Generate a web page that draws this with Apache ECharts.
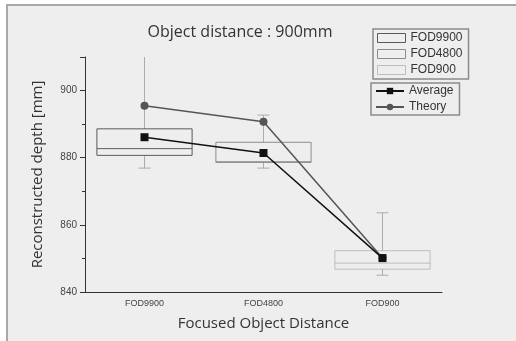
<!DOCTYPE html>
<html>
<head>
<meta charset="utf-8">
<script src="https://cdn.jsdelivr.net/npm/echarts@6/dist/echarts.min.js"></script>
<style>
html,body{margin:0;padding:0;background:#fff;}
#c{width:516px;height:341px;}
</style>
</head>
<body>
<div id="c"></div>
<script>
var categories = ['FOD9900', 'FOD4800', 'FOD900'];
var boxMin = [876.9, 876.9, 845.0];
var boxQ1 = [880.7, 878.6, 846.8];
var boxMedian = [882.7, 878.8, 848.6];
var boxQ3 = [888.6, 884.6, 852.3];
var boxMax = [913.0, 892.7, 863.6];
var average = [886.1, 881.4, 850.1];
var theory = [895.5, 890.7, 850.1];
var yTicks = [840, 860, 880, 900];

var boxStroke = ['#5a5a5a', '#8c8c8c', '#bdbdbd'];
var whiskerColor = '#acacac';

var chart = echarts.init(document.getElementById('c'), null, {renderer: 'canvas'});

function renderBox(params, api) {
  var x = api.value(0);
  var pMin = api.coord([x, api.value(1)]);
  var pQ1 = api.coord([x, api.value(2)]);
  var pMed = api.coord([x, api.value(3)]);
  var pQ3 = api.coord([x, api.value(4)]);
  var pMax = api.coord([x, api.value(5)]);
  var hw = api.size([1, 0])[0] * 0.4;
  var cap = 6;
  var cx = pQ1[0];
  var stroke = boxStroke[params.seriesIndex];
  return {
    type: 'group',
    children: [
      {type: 'line', shape: {x1: cx, y1: pQ3[1], x2: cx, y2: pMax[1]}, style: {stroke: whiskerColor, lineWidth: 1}},
      {type: 'line', shape: {x1: cx, y1: pQ1[1], x2: cx, y2: pMin[1]}, style: {stroke: whiskerColor, lineWidth: 1}},
      {type: 'line', shape: {x1: cx - cap, y1: pMax[1], x2: cx + cap, y2: pMax[1]}, style: {stroke: whiskerColor, lineWidth: 1}},
      {type: 'line', shape: {x1: cx - cap, y1: pMin[1], x2: cx + cap, y2: pMin[1]}, style: {stroke: whiskerColor, lineWidth: 1}},
      {type: 'rect', shape: {x: cx - hw, y: pQ3[1], width: hw * 2, height: pQ1[1] - pQ3[1]}, style: {fill: 'none', stroke: stroke, lineWidth: 1}},
      {type: 'line', shape: {x1: cx - hw, y1: pMed[1], x2: cx + hw, y2: pMed[1]}, style: {stroke: stroke, lineWidth: 1}}
    ]
  };
}

var series = [];
for (var i = 0; i < categories.length; i++) {
  series.push({
    name: categories[i],
    type: 'custom',
    clip: true,
    renderItem: renderBox,
    itemStyle: {color: boxStroke[i]},
    encode: {x: 0, y: [1, 2, 3, 4, 5]},
    data: [[i, boxMin[i], boxQ1[i], boxMedian[i], boxQ3[i], boxMax[i]]],
    z: 1
  });
}
series.push({
  name: 'Theory', type: 'line', data: theory, symbol: 'circle', symbolSize: 8,
  lineStyle: {color: '#555', width: 1.5}, itemStyle: {color: '#555'}, z: 3
});
series.push({
  name: 'Average', type: 'line', data: average, symbol: 'rect', symbolSize: 8,
  lineStyle: {color: '#111', width: 1.5}, itemStyle: {color: '#111'}, z: 4
});

var legendText = {fontFamily: 'Liberation Sans, Arial', fontSize: 12, color: '#333'};

chart.setOption({
  backgroundColor: '#fff',
  animation: false,
  graphic: [{
    type: 'rect', z: -10, silent: true,
    shape: {x: 7, y: 5, width: 600, height: 400},
    style: {fill: '#eeeeee', stroke: '#a8a8a8', lineWidth: 2}
  }],
  title: {
    text: 'Object distance : 900mm', left: 235, top: 19, textAlign: 'center',
    textStyle: {fontFamily: 'Open Sans, Noto Sans', fontSize: 16, fontWeight: 'normal', color: '#333'}
  },
  legend: [{
    orient: 'vertical', left: 373, top: 29, padding: [3, 6, 3, 4],
    itemWidth: 28, itemHeight: 9, itemGap: 4, borderColor: '#8a8a8a', borderWidth: 1.5,
    data: [
      {name: 'FOD9900', icon: 'rect', itemStyle: {color: 'transparent', borderColor: '#5a5a5a', borderWidth: 1}},
      {name: 'FOD4800', icon: 'rect', itemStyle: {color: 'transparent', borderColor: '#8c8c8c', borderWidth: 1}},
      {name: 'FOD900', icon: 'rect', itemStyle: {color: 'transparent', borderColor: '#bdbdbd', borderWidth: 1}}
    ],
    textStyle: legendText
  }, {
    orient: 'vertical', left: 371, top: 83, padding: [2, 6, 2, 4],
    itemWidth: 28, itemHeight: 8, itemGap: 4, borderColor: '#8a8a8a', borderWidth: 1.5,
    data: ['Average', 'Theory'],
    textStyle: legendText
  }],
  grid: {left: 85, top: 57, right: 74, bottom: 49},
  xAxis: {
    type: 'category', data: categories, boundaryGap: true,
    axisLine: {lineStyle: {color: '#333', width: 1}},
    axisTick: {alignWithLabel: true, length: 4, lineStyle: {color: '#333'}},
    axisLabel: {fontFamily: 'Liberation Sans, Arial', fontSize: 9, color: '#444', margin: 7},
    name: 'Focused Object Distance', nameLocation: 'middle', nameGap: 24,
    nameTextStyle: {fontFamily: 'Open Sans, Noto Sans', fontSize: 15, color: '#333'}
  },
  yAxis: {
    type: 'value', min: 840, max: 910, interval: 20,
    axisLine: {show: true, lineStyle: {color: '#333', width: 1}},
    axisTick: {show: true, length: 5, lineStyle: {color: '#333'}},
    minorTick: {show: true, splitNumber: 2, length: 3, lineStyle: {color: '#333'}},
    splitLine: {show: false},
    axisLabel: {
      fontFamily: 'Liberation Sans, Arial', fontSize: 10, color: '#444', margin: 8,
      formatter: function (v) { return yTicks.indexOf(v) >= 0 ? String(v) : ''; }
    },
    name: 'Reconstructed depth [mm]', nameLocation: 'middle', nameGap: 40, nameRotate: 90,
    nameTextStyle: {fontFamily: 'Open Sans, Noto Sans', fontSize: 15, color: '#333'}
  },
  series: series
});
</script>
</body>
</html>
